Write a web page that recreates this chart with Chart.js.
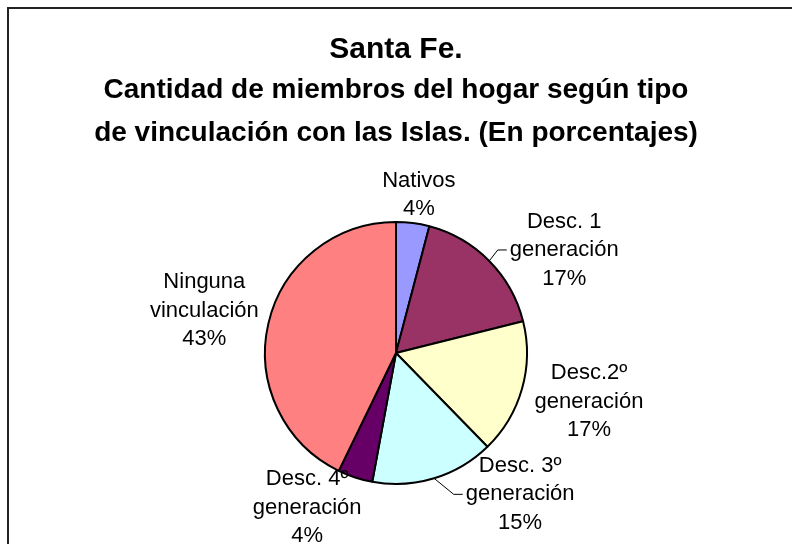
<!DOCTYPE html>
<html>
<head>
<meta charset="utf-8">
<script src="https://cdn.jsdelivr.net/npm/chart.js@4"></script>
<style>
  html, body { margin: 0; padding: 0; background: #fff; overflow: hidden; }
  #frame { position: absolute; left: 7px; top: 7px; width: 900px; height: 700px; border: 2px solid #222; }
  #c { position: absolute; left: 0; top: 0; }
</style>
</head>
<body>
<div id="frame"></div>
<canvas id="c" width="792" height="544"></canvas>
<script>
// ---- data ----
const titleText = "Santa Fe.";
const subtitleLines = ["Cantidad de miembros del hogar según tipo", "de vinculación con las Islas. (En porcentajes)"];
const categories = [
  ["Nativos"],
  ["Desc. 1", "generación"],
  ["Desc.2º", "generación"],
  ["Desc. 3º", "generación"],
  ["Desc. 4º", "generación"],
  ["Ninguna", "vinculación"]
];
const values = [4.1, 17.0, 16.6, 15.2, 4.3, 42.8];
const colors = ["#9999FF", "#993366", "#FFFFCC", "#CCFFFF", "#660066", "#FF8080"];

// label placement relative to the slice's outer mid-point (dx, dy), leader line flag
const labelPlacement = [
  { dx: 6, dy: -28, leader: false },
  { dx: 75, dy: -11, leader: true },
  { dx: 67, dy: 13, leader: false },
  { dx: 86, dy: 16, leader: true },
  { dx: -48, dy: 30, leader: false },
  { dx: -64, dy: -13, leader: false }
];

const FONT = '"Liberation Sans", Arial, Helvetica, sans-serif';
const LABEL_SIZE = 22;
const LINE_H = 28.5;

const pieLabels = {
  id: 'pieLabels',
  afterDatasetsDraw(chart) {
    const ctx = chart.ctx;
    const meta = chart.getDatasetMeta(0);
    const total = values.reduce((a, b) => a + b, 0);
    ctx.save();
    ctx.font = LABEL_SIZE + 'px ' + FONT;
    ctx.fillStyle = '#000';
    ctx.strokeStyle = '#000';
    ctx.textAlign = 'center';
    ctx.textBaseline = 'middle';
    meta.data.forEach((arc, i) => {
      const p = arc.getProps(['x', 'y', 'startAngle', 'endAngle', 'outerRadius'], true);
      const mid = (p.startAngle + p.endAngle) / 2;
      const ex = p.x + Math.cos(mid) * p.outerRadius;
      const ey = p.y + Math.sin(mid) * p.outerRadius;
      const pl = labelPlacement[i];
      const cx = ex + pl.dx;
      const cy = ey + pl.dy;
      const lines = categories[i].concat([Math.round(values[i] / total * 100) + '%']);
      const n = lines.length;
      let maxW = 0;
      lines.forEach(t => { maxW = Math.max(maxW, ctx.measureText(t).width); });
      if (pl.leader) {
        const left = cx - maxW / 2;
        ctx.lineWidth = 1;
        ctx.beginPath();
        ctx.moveTo(ex, ey);
        ctx.lineTo(left - 12, cy);
        ctx.lineTo(left - 3, cy);
        ctx.stroke();
      }
      lines.forEach((t, k) => {
        ctx.fillText(t, cx, cy + (k - (n - 1) / 2) * LINE_H);
      });
    });
    ctx.restore();
  }
};

new Chart(document.getElementById('c'), {
  type: 'pie',
  data: {
    labels: categories,
    datasets: [{
      data: values,
      backgroundColor: colors,
      borderColor: '#000',
      borderWidth: 2
    }]
  },
  options: {
    responsive: false,
    animation: false,
    devicePixelRatio: 1,
    layout: { padding: { left: 0, right: 0, top: 0, bottom: 59 } },
    plugins: {
      legend: { display: false },
      tooltip: { enabled: false },
      title: {
        display: true,
        text: titleText,
        color: '#000',
        font: { family: FONT, size: 30, weight: 'bold', lineHeight: 1.2 },
        padding: { top: 32, bottom: 0 }
      },
      subtitle: {
        display: true,
        text: subtitleLines,
        color: '#000',
        font: { family: FONT, size: 28, weight: 'bold', lineHeight: 1.536 },
        padding: { top: 1, bottom: 66 }
      }
    }
  },
  plugins: [pieLabels]
});
</script>
</body>
</html>
